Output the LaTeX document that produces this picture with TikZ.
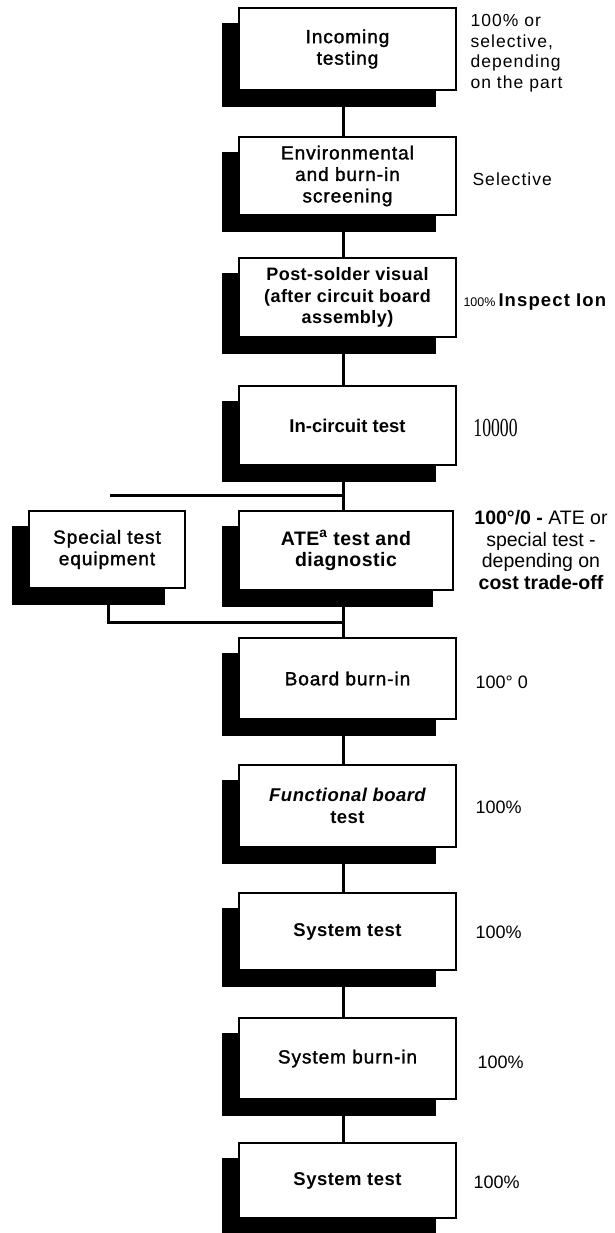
\documentclass[tikz,border=0pt]{standalone}
\usepackage{fontspec}
\setmainfont{Liberation Sans}
\newfontfamily\boxbf[LetterSpace=2.5]{Liberation Sans}
\newfontfamily\boxmd[LetterSpace=5,FakeBold=1.5]{Liberation Sans}
\newfontfamily\sidef[LetterSpace=6]{Liberation Sans}
\newfontfamily\serf{Liberation Serif}
\usetikzlibrary{backgrounds}
\newcommand\myshadow[1]{\fill[black] ([xshift=-16pt,yshift=-16pt]#1.north west) rectangle ([xshift=-21pt,yshift=-16pt]#1.south east);}
\begin{document}
\begin{tikzpicture}[x=1pt,y=-1pt,
  box/.style={draw,line width=1.4pt,fill=white,minimum width=217pt,minimum height=80pt,align=center,inner sep=0pt},
  bx/.style={box,font=\boxbf\bfseries\fontsize{18.5}{21.5}\selectfont},
  bm/.style={box,font=\boxmd\fontsize{19}{21.5}\selectfont},
  conn/.style={line width=3pt},
  side/.style={anchor=west,align=left,font=\sidef\fontsize{17.5}{20.5}\selectfont},
  pct/.style={anchor=west,font=\fontsize{18}{21}\selectfont}
]
\useasboundingbox (0,0) rectangle (615,1233);

% main boxes
\node[bm,minimum height=82pt] (b1) at (347.5,49) {Incoming\\testing};
\node[bm,minimum height=78pt] (b2) at (347.5,176) {Environmental\\and burn-in\\screening};
\node[bx,minimum height=79pt,font=\boxbf\bfseries\fontsize{18}{21.5}\selectfont] (b3) at (347.5,297.5) {Post-solder visual\\(after circuit board\\assembly)};
\node[bx,minimum height=79pt,font=\bfseries\fontsize{18.5}{21}\selectfont] (b4) at (347.5,425.5) {In-circuit test};
\node[bm,minimum width=156pt,minimum height=77pt] (b5) at (107,549.5) {Special test\\equipment};
\node[bx,minimum width=214pt,minimum height=79pt,font=\boxbf\bfseries\fontsize{19.5}{21.5}\selectfont] (b6) at (346,550.5) {ATE\textsuperscript{a} test and\\diagnostic};
\node[bm,minimum height=81pt] (b7) at (347.5,678.5) {Board burn-in};
\node[bx,minimum height=82pt] (b8) at (347.5,806) {{\itshape Functional board}\\test};
\node[bx,minimum height=77pt] (b9) at (347.5,931.5) {System test};
\node[bm,minimum height=81pt] (b10) at (347.5,1058.5) {System burn-in};
\node[bx,minimum height=75pt] (b11) at (347.5,1180.5) {System test};

% junction coordinates
\coordinate (j1) at (343,495);
\coordinate (h1) at (110,495);
\coordinate (j2) at (343,622);
\coordinate (h2) at (108,622);

\begin{pgfonlayer}{background}
\myshadow{b1}\myshadow{b2}\myshadow{b3}\myshadow{b4}\myshadow{b5}\myshadow{b6}
\myshadow{b7}\myshadow{b8}\myshadow{b9}\myshadow{b10}\myshadow{b11}
\draw[conn] ([xshift=-4.5pt]b1.south) -- ([xshift=-4.5pt]b2.north);
\draw[conn] ([xshift=-4.5pt]b2.south) -- ([xshift=-4.5pt]b3.north);
\draw[conn] ([xshift=-4.5pt]b3.south) -- ([xshift=-4.5pt]b4.north);
\draw[conn] (b4.south -| j1) -- (j1) -- (b6.north -| j1);
\draw[conn] (h1) -- (j1);
\draw[conn] (b5.south -| h2) -- (h2) -- (j2);
\draw[conn] (b6.south -| j2) -- (j2) -- (b7.north -| j2);
\draw[conn] ([xshift=-4.5pt]b7.south) -- ([xshift=-4.5pt]b8.north);
\draw[conn] ([xshift=-4.5pt]b8.south) -- ([xshift=-4.5pt]b9.north);
\draw[conn] ([xshift=-4.5pt]b9.south) -- ([xshift=-4.5pt]b10.north);
\draw[conn] ([xshift=-4.5pt]b10.south) -- ([xshift=-4.5pt]b11.north);
\end{pgfonlayer}

% side notes
\node[side] (t1) at (467,53) {100\% or\\selective,\\depending\\on the part};
\node[side] (t2) at (469,179) {Selective};
\node[anchor=west] (t3) at (460,302) {{\fontsize{12.5}{14}\selectfont 100\%}\hspace{3pt}{\sidef\bfseries\fontsize{18.5}{20}\selectfont Inspect Ion}};
\node[anchor=west,font=\serf\fontsize{26}{28}\selectfont,xscale=0.68] (t4) at (471,428) {10000};
\node[align=center,font=\fontsize{19.5}{21.5}\selectfont] (t5) at (541,550) {\textbf{100°/0 -} ATE or\\special test -\\depending on\\\textbf{cost trade-off}};
\node[pct] (t6) at (472,682) {100° 0};
\node[pct] (t7) at (472,807) {100\%};
\node[pct] (t8) at (472,932) {100\%};
\node[pct] (t9) at (474,1062) {100\%};
\node[pct] (t10) at (470,1182) {100\%};
\end{tikzpicture}
\end{document}
